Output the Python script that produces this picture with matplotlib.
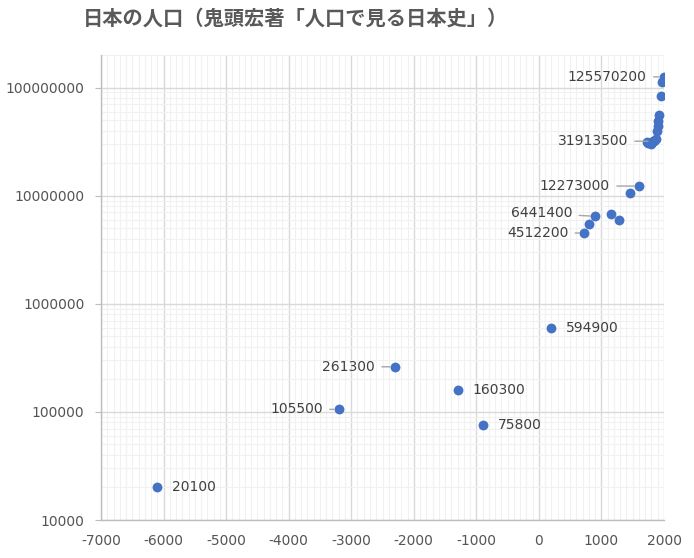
import matplotlib
matplotlib.use("Agg")
import matplotlib.pyplot as plt
from matplotlib.ticker import FixedLocator, LogLocator, MultipleLocator, NullFormatter, FuncFormatter

plt.rcParams['font.family'] = ['DejaVu Sans', 'Noto Sans CJK JP']

title = "日本の人口（鬼頭宏著「人口で見る日本史」）"
years = [-6100, -3200, -2300, -1300, -900, 200, 725, 800, 900, 1150, 1280, 1450, 1600,
         1721, 1750, 1786, 1798, 1822, 1846, 1873, 1890, 1900, 1910, 1920, 1950, 1975, 1995]
population = [20100, 105500, 261300, 160300, 75800, 594900, 4512200, 5506200, 6441400,
              6836900, 5950000, 10500000, 12273000, 31278500, 31005500, 30103800, 30565500,
              31913500, 32297200, 33300700, 39902000, 43847000, 49184000, 55963100,
              83199600, 111939600, 125570200]
# labelled points
labels_right = [(-6100, 20100), (-1300, 160300), (-900, 75800), (200, 594900)]
labels_left = [(-3200, 105500), (-2300, 261300), (725, 4512200), (900, 6441400),
               (1600, 12273000), (1822, 31913500), (1995, 125570200)]
# label offsets in pixels (layout only)
left_offsets_px = [(16, 0), (20, 0), (16, 0), (23, 3), (29, 0), (25, 0), (17, 0)]
x_ticks = [-7000, -6000, -5000, -4000, -3000, -2000, -1000, 0, 1000, 2000]
y_ticks = [10000, 100000, 1000000, 10000000, 100000000]

W, H = 694, 558
PT = 0.72
fig = plt.figure(figsize=(W / 100, H / 100), dpi=100)
ax = fig.add_axes([101 / W, (H - 520) / H, (664 - 101) / W, (520 - 55) / H])

ax.set_yscale('log')
ax.set_xlim(-7000, 2000)
ax.set_ylim(10000, 2e8)

ax.xaxis.set_major_locator(FixedLocator(x_ticks))
ax.xaxis.set_minor_locator(MultipleLocator(100))
ax.yaxis.set_major_locator(FixedLocator(y_ticks))
ax.yaxis.set_minor_locator(LogLocator(base=10, subs=range(2, 10), numticks=20))
ax.yaxis.set_minor_formatter(NullFormatter())
ax.yaxis.set_major_formatter(FuncFormatter(lambda v, p: f"{int(round(v))}"))
ax.xaxis.set_major_formatter(FuncFormatter(lambda v, p: f"{int(round(v))}"))

ax.grid(which='major', color='#d9d9d9', linewidth=1.0)
ax.grid(which='minor', color='#f1f1f1', linewidth=0.8)
ax.set_axisbelow(True)

for s in ['top', 'right']:
    ax.spines[s].set_visible(False)
for s in ['left', 'bottom']:
    ax.spines[s].set_color('#bdbdbd')
    ax.spines[s].set_linewidth(1.0)

ax.tick_params(axis='y', which='major', length=4, color='#bdbdbd', pad=8,
               labelsize=10, labelcolor='#555555')
ax.tick_params(axis='y', which='minor', length=0)
ax.tick_params(axis='x', which='both', length=0, pad=10, labelsize=10, labelcolor='#555555')

ax.scatter(years, population, s=50, color='#4472C4', zorder=3, linewidths=0)

for x, y in labels_right:
    ax.annotate(f"{y}", (x, y), xytext=(15 * PT, 0), textcoords='offset points',
                ha='left', va='center', fontsize=10, color='#404040')
for (x, y), (dx, dy) in zip(labels_left, left_offsets_px):
    ax.annotate(f"{y}", (x, y), xytext=(-dx * PT, dy * PT), textcoords='offset points',
                ha='right', va='center', fontsize=10, color='#404040',
                arrowprops=dict(arrowstyle='-', color='#a6a6a6', lw=1.0,
                                shrinkA=3, shrinkB=3.5))

fig.text(83 / W, 1 - 18 / H, title, ha='left', va='center', fontsize=14.6,
         fontweight='bold', color='#595959', family=['Noto Sans CJK JP', 'DejaVu Sans'])

fig.savefig('out.png', dpi=100)
